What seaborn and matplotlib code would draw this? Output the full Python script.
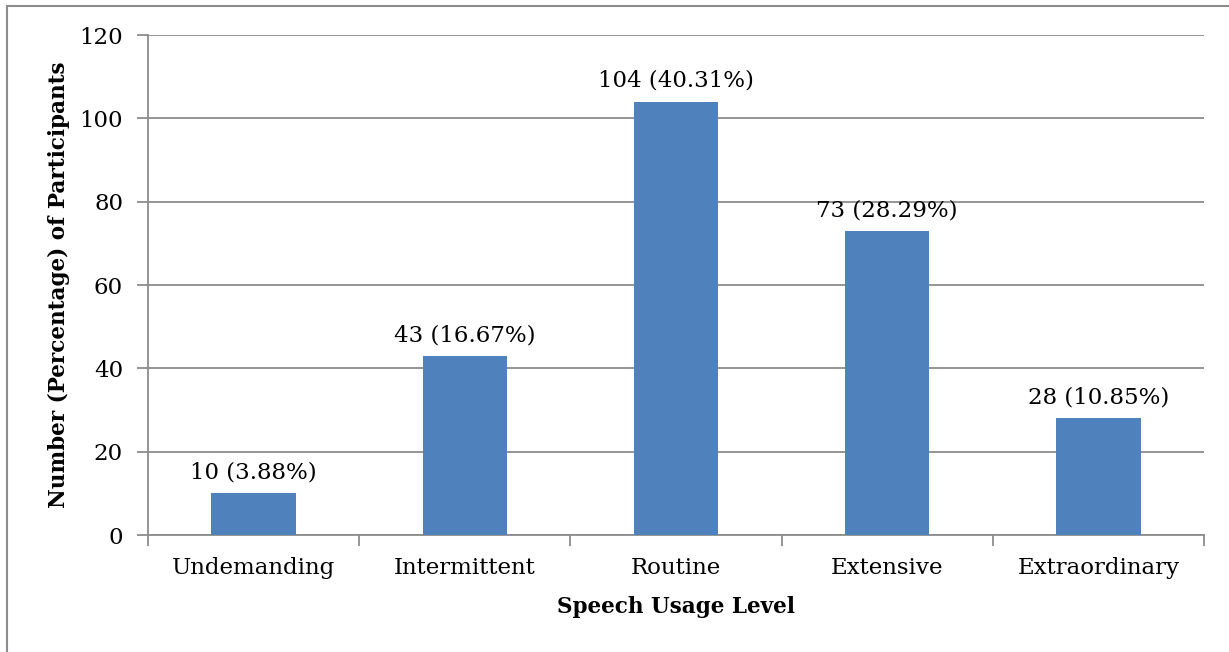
import matplotlib
matplotlib.use("Agg")
import matplotlib.pyplot as plt
import seaborn as sns
import pandas as pd
import numpy as np
from matplotlib.patches import Rectangle

categories = ["Undemanding", "Intermittent", "Routine", "Extensive", "Extraordinary"]
counts = [10, 43, 104, 73, 28]
percents = [3.88, 16.67, 40.31, 28.29, 10.85]
y_ticks = [0, 20, 40, 60, 80, 100, 120]

sns.set_theme(style="white")
plt.rcParams["font.family"] = ["DejaVu Serif"]

W, H = 1229, 652
fig = plt.figure(figsize=(W / 100, H / 100), dpi=100)
ax = fig.add_axes([148 / W, 1 - 535 / H, (1204 - 148) / W, (535 - 35) / H])

# outer chart-area frame
fig.patches.append(Rectangle((7 / W, -0.05), 1.2, 1 - 6 / H + 0.05,
                             transform=fig.transFigure, fill=False,
                             edgecolor="#8c8c8c", linewidth=1.5, zorder=0))

df = pd.DataFrame({"level": categories, "n": counts})
sns.barplot(data=df, x="level", y="n", color="#4F81BD", saturation=1,
            width=0.4, linewidth=0, ax=ax, zorder=3)

ax.set_xlim(-0.5, len(categories) - 0.5)
ax.set_ylim(0, 120)
ax.set_yticks(y_ticks)
ax.yaxis.grid(True, color="#8c8c8c", linewidth=1.3, zorder=0)
ax.set_axisbelow(True)

for s in ["top", "right"]:
    ax.spines[s].set_visible(False)
for s in ["left", "bottom"]:
    ax.spines[s].set_color("#8c8c8c")
    ax.spines[s].set_linewidth(1.3)

ax.tick_params(axis="y", which="major", left=True, length=8, width=1.3,
               color="#8c8c8c", labelsize=16.5, pad=10, labelcolor="black")
ax.tick_params(axis="x", which="major", bottom=False, length=0,
               labelsize=16.5, pad=16, labelcolor="black")
ax.set_xticks(np.arange(-0.5, len(categories)), minor=True)
ax.tick_params(axis="x", which="minor", bottom=True, length=8, width=1.3,
               color="#8c8c8c")

for i, (c, p) in enumerate(zip(counts, percents)):
    ax.annotate(f"{c} ({p:.2f}%)", xy=(i, c), xytext=(0, 7),
                textcoords="offset points", ha="center", va="bottom",
                fontsize=16.5, color="black")

ax.set_xlabel("Speech Usage Level", fontsize=15.5, fontweight="bold",
              labelpad=12, color="black")
ax.set_ylabel("Number (Percentage) of Participants", fontsize=15.5,
              fontweight="bold", labelpad=7, color="black")

fig.savefig("out.png", dpi=100)
